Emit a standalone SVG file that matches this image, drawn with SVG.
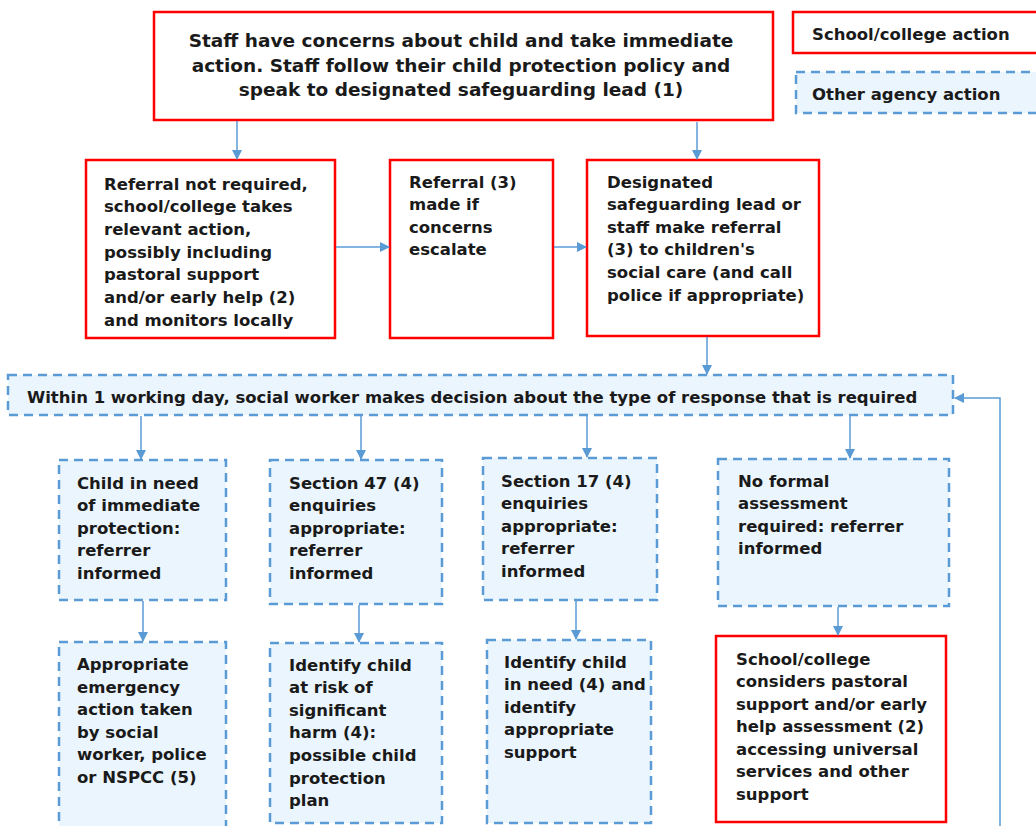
<svg xmlns="http://www.w3.org/2000/svg" width="1036" height="826" viewBox="0 0 1036 826">
<defs>
<marker id="ah" markerWidth="10" markerHeight="10" refX="9" refY="5" orient="auto" markerUnits="userSpaceOnUse">
<path d="M0,0 L10,5 L0,10 z" fill="#5b9bd5"/>
</marker>
<style>
.school{fill:#ffffff;stroke:#ff0000;stroke-width:2.5}
.agency{fill:#eaf5fd;stroke:#5b9bd5;stroke-width:2.5;stroke-dasharray:9 6}
.t{font-family:"DejaVu Sans",Verdana,sans-serif;font-weight:bold;font-size:16.5px;fill:#1a1a1a}
.tt{font-family:"DejaVu Sans",Verdana,sans-serif;font-weight:bold;font-size:18.5px;fill:#1a1a1a}
.c{fill:none;stroke:#5b9bd5;stroke-width:1.5;marker-end:url(#ah)}
</style>
</defs>
<rect width="1036" height="826" fill="#ffffff"/>

<g id="legend-school">
<rect class="school" x="793" y="12" width="250" height="41"/>
<text class="t" x="812" y="40">School/college action</text>
</g>
<g id="legend-agency">
<rect class="agency" x="796" y="72" width="250" height="41"/>
<text class="t" x="812" y="100">Other agency action</text>
</g>

<g id="n-start">
<rect class="school" x="154" y="12" width="619" height="108"/>
<text class="tt" text-anchor="middle" x="461" y="47">Staff have concerns about child and take immediate</text>
<text class="tt" text-anchor="middle" x="461" y="72">action. Staff follow their child protection policy and</text>
<text class="tt" text-anchor="middle" x="461" y="96">speak to designated safeguarding lead (1)</text>
</g>

<g id="n-noreferral">
<rect class="school" x="86" y="160" width="249" height="178"/>
<text class="t" x="104"><tspan x="104" y="190">Referral not required,</tspan><tspan x="104" y="212">school/college takes</tspan><tspan x="104" y="235">relevant action,</tspan><tspan x="104" y="258">possibly including</tspan><tspan x="104" y="280">pastoral support</tspan><tspan x="104" y="303">and/or early help (2)</tspan><tspan x="104" y="326">and monitors locally</tspan></text>
</g>

<g id="n-escalate">
<rect class="school" x="390" y="160" width="163" height="178"/>
<text class="t"><tspan x="409" y="188">Referral (3)</tspan><tspan x="409" y="210">made if</tspan><tspan x="409" y="233">concerns</tspan><tspan x="409" y="255">escalate</tspan></text>
</g>

<g id="n-referral">
<rect class="school" x="587" y="160" width="232" height="176"/>
<text class="t"><tspan x="607" y="188">Designated</tspan><tspan x="607" y="210">safeguarding lead or</tspan><tspan x="607" y="233">staff make referral</tspan><tspan x="607" y="255">(3) to children's</tspan><tspan x="607" y="278">social care (and call</tspan><tspan x="607" y="301">police if appropriate)</tspan></text>
</g>

<g id="n-decision">
<rect class="agency" x="8" y="375" width="945" height="40"/>
<text class="t" x="27" y="403">Within 1 working day, social worker makes decision about the type of response that is required</text>
</g>

<g id="n-immediate">
<rect class="agency" x="59" y="460" width="167" height="140"/>
<text class="t"><tspan x="77" y="489">Child in need</tspan><tspan x="77" y="511">of immediate</tspan><tspan x="77" y="534">protection:</tspan><tspan x="77" y="556">referrer</tspan><tspan x="77" y="579">informed</tspan></text>
</g>

<g id="n-s47">
<rect class="agency" x="270" y="460" width="172" height="144"/>
<text class="t"><tspan x="289" y="489">Section 47 (4)</tspan><tspan x="289" y="511">enquiries</tspan><tspan x="289" y="534">appropriate:</tspan><tspan x="289" y="556">referrer</tspan><tspan x="289" y="579">informed</tspan></text>
</g>

<g id="n-s17">
<rect class="agency" x="483" y="458" width="174" height="142"/>
<text class="t"><tspan x="501" y="487">Section 17 (4)</tspan><tspan x="501" y="509">enquiries</tspan><tspan x="501" y="532">appropriate:</tspan><tspan x="501" y="554">referrer</tspan><tspan x="501" y="577">informed</tspan></text>
</g>

<g id="n-noformal">
<rect class="agency" x="718" y="459" width="231" height="147"/>
<text class="t"><tspan x="738" y="487">No formal</tspan><tspan x="738" y="509">assessment</tspan><tspan x="738" y="532">required: referrer</tspan><tspan x="738" y="554">informed</tspan></text>
</g>

<g id="n-emergency">
<rect class="agency" x="59" y="642" width="167" height="200"/>
<text class="t"><tspan x="77" y="670">Appropriate</tspan><tspan x="77" y="693">emergency</tspan><tspan x="77" y="715">action taken</tspan><tspan x="77" y="738">by social</tspan><tspan x="77" y="760">worker, police</tspan><tspan x="77" y="783">or NSPCC (5)</tspan></text>
</g>

<g id="n-risk">
<rect class="agency" x="270" y="643" width="172" height="180"/>
<text class="t"><tspan x="289" y="671">Identify child</tspan><tspan x="289" y="693">at risk of</tspan><tspan x="289" y="716">significant</tspan><tspan x="289" y="738">harm (4):</tspan><tspan x="289" y="761">possible child</tspan><tspan x="289" y="784">protection</tspan><tspan x="289" y="806">plan</tspan></text>
</g>

<g id="n-inneed">
<rect class="agency" x="487" y="640" width="164" height="183"/>
<text class="t"><tspan x="504" y="668">Identify child</tspan><tspan x="504" y="690">in need (4) and</tspan><tspan x="504" y="713">identify</tspan><tspan x="504" y="735">appropriate</tspan><tspan x="504" y="758">support</tspan></text>
</g>

<g id="n-pastoral">
<rect class="school" x="716" y="636" width="230" height="186"/>
<text class="t"><tspan x="736" y="665">School/college</tspan><tspan x="736" y="687">considers pastoral</tspan><tspan x="736" y="710">support and/or early</tspan><tspan x="736" y="732">help assessment (2)</tspan><tspan x="736" y="755">accessing universal</tspan><tspan x="736" y="777">services and other</tspan><tspan x="736" y="800">support</tspan></text>
</g>

<g id="connectors">
<line class="c" x1="237" y1="121" x2="237" y2="159"/>
<line class="c" x1="697" y1="122" x2="697" y2="159"/>
<line class="c" x1="336" y1="247" x2="389" y2="247"/>
<line class="c" x1="554" y1="247" x2="586" y2="247"/>
<line class="c" x1="707" y1="337" x2="707" y2="374"/>
<line class="c" x1="141" y1="416" x2="141" y2="459"/>
<line class="c" x1="361" y1="416" x2="361" y2="459"/>
<line class="c" x1="587" y1="416" x2="587" y2="457"/>
<line class="c" x1="850" y1="416" x2="850" y2="458"/>
<line class="c" x1="143" y1="601" x2="143" y2="641"/>
<line class="c" x1="359" y1="605" x2="359" y2="642"/>
<line class="c" x1="576" y1="601" x2="576" y2="639"/>
<line class="c" x1="838" y1="607" x2="838" y2="635"/>
<polyline class="c" points="1000,826 1000,398 955,398"/>
</g>
</svg>
